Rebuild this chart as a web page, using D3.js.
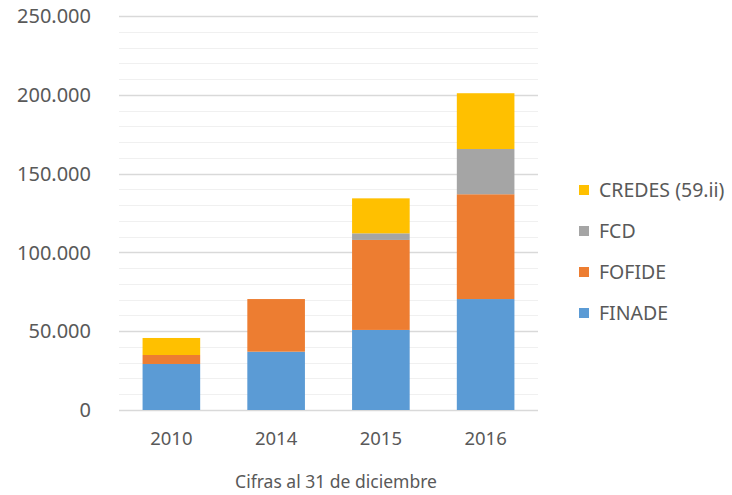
<!DOCTYPE html>
<html lang="es">
<head>
<meta charset="UTF-8">
<title>Cifras al 31 de diciembre</title>
<script src="https://cdn.jsdelivr.net/npm/d3@7"></script>
<style>
  body { margin: 0; background: #fff; }
  svg text { font-family: "Noto Sans", "Open Sans", sans-serif; fill: #595959; }
</style>
</head>
<body>
<div id="chart"></div>
<script>
  // data (thousands shown with "." as separator)
  const years = ["2010", "2014", "2015", "2016"];
  const seriesNames = ["FINADE", "FOFIDE", "FCD", "CREDES (59.ii)"];
  const finade = [29200, 37000, 50800, 70400];
  const fofide = [5700, 33400, 57100, 66500];
  const fcd = [0, 0, 4200, 28700];
  const credes = [10800, 0, 22200, 35400];
  const yTicks = [0, 50000, 100000, 150000, 200000, 250000];
  const colors = ["#5B9BD5", "#ED7D31", "#A5A5A5", "#FFC000"];

  const width = 732, height = 495;
  const margin = { top: 16, right: 194, bottom: 85, left: 119 };

  const rows = years.map((y, i) => ({
    year: y,
    "FINADE": finade[i],
    "FOFIDE": fofide[i],
    "FCD": fcd[i],
    "CREDES (59.ii)": credes[i]
  }));
  const stacked = d3.stack().keys(seriesNames)(rows);

  const svg = d3.select("#chart").append("svg")
    .attr("width", width)
    .attr("height", height);

  const x = d3.scaleBand()
    .domain(years)
    .range([margin.left, width - margin.right])
    .paddingInner(0.45)
    .paddingOuter(0.225);

  const y = d3.scaleLinear()
    .domain([0, 250000])
    .range([height - margin.bottom, margin.top]);

  const fmt = d3.formatLocale({ decimal: ",", thousands: ".", grouping: [3], currency: ["", ""] }).format(",");

  // minor grid lines
  svg.append("g")
    .selectAll("line")
    .data(d3.range(10000, 250000, 10000).filter(v => v % 50000 !== 0))
    .join("line")
    .attr("x1", margin.left)
    .attr("x2", width - margin.right)
    .attr("y1", d => Math.round(y(d)) + 0.5)
    .attr("y2", d => Math.round(y(d)) + 0.5)
    .attr("stroke", "#f0f0f0");

  // major grid lines
  svg.append("g")
    .selectAll("line")
    .data(yTicks)
    .join("line")
    .attr("x1", margin.left)
    .attr("x2", width - margin.right)
    .attr("y1", d => Math.round(y(d)) + 0.5)
    .attr("y2", d => Math.round(y(d)) + 0.5)
    .attr("stroke", "#d9d9d9")
    .attr("stroke-width", 1.3);

  // bars
  svg.append("g")
    .selectAll("g")
    .data(stacked)
    .join("g")
    .attr("fill", (d, i) => colors[i])
    .selectAll("rect")
    .data(d => d)
    .join("rect")
    .attr("x", d => x(d.data.year))
    .attr("width", x.bandwidth())
    .attr("y", d => y(d[1]))
    .attr("height", d => y(d[0]) - y(d[1]));

  // y labels
  svg.append("g")
    .selectAll("text")
    .data(yTicks)
    .join("text")
    .attr("x", 91)
    .attr("y", d => y(d))
    .attr("dy", "0.36em")
    .attr("text-anchor", "end")
    .style("font-size", "20px")
    .text(d => fmt(d));

  // x labels
  svg.append("g")
    .selectAll("text")
    .data(years)
    .join("text")
    .attr("x", d => x(d) + x.bandwidth() / 2)
    .attr("y", 445)
    .attr("text-anchor", "middle")
    .style("font-size", "18.5px")
    .text(d => d);

  svg.append("text")
    .attr("x", 336)
    .attr("y", 488)
    .attr("text-anchor", "middle")
    .style("font-size", "17.5px")
    .text("Cifras al 31 de diciembre");

  // legend, top entry is the top of the stack
  const legend = svg.append("g")
    .selectAll("g")
    .data(seriesNames.slice().reverse())
    .join("g")
    .attr("transform", (d, i) => `translate(579, ${190 + i * 41})`);
  legend.append("rect")
    .attr("y", -5)
    .attr("width", 10)
    .attr("height", 10)
    .attr("fill", d => colors[seriesNames.indexOf(d)]);
  legend.append("text")
    .attr("x", 20)
    .attr("dy", "0.36em")
    .style("font-size", "19.5px")
    .text(d => d);
</script>
</body>
</html>
